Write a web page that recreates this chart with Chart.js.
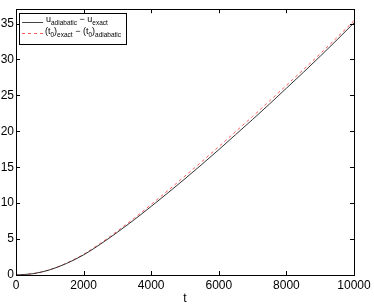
<!DOCTYPE html>
<html>
<head>
<meta charset="utf-8">
<script src="https://cdn.jsdelivr.net/npm/chart.js@4"></script>
<style>
  html, body { margin: 0; padding: 0; background: #fff; }
  #wrap { width: 374px; height: 306px; position: relative; }
</style>
</head>
<body>
<div id="wrap"><canvas id="chart" width="374" height="306"></canvas></div>
<script>
// values
const tValues = [0, 500, 1000, 1500, 2000, 2500, 3000, 3500, 4000, 4500, 5000,
                 5500, 6000, 6500, 7000, 7500, 8000, 8500, 9000, 9500, 10000];
const uDiff = [0, 0.18, 0.72, 1.62, 2.8, 4.3, 5.95, 7.7, 9.55, 11.45, 13.4,
               15.4, 17.45, 19.55, 21.65, 23.8, 26.0, 28.2, 30.45, 32.75, 35.1];
const t0Diff = [0, 0.18, 0.74, 1.67, 2.88, 4.42, 6.12, 7.92, 9.82, 11.78, 13.78,
                15.8, 17.87, 19.97, 22.07, 24.22, 26.4, 28.58, 30.8, 33.08, 35.4];
const xTicks = [0, 2000, 4000, 6000, 8000, 10000];
const yTicks = [0, 5, 10, 15, 20, 25, 30, 35];

const FONT = 'Liberation Sans, Arial, Helvetica, sans-serif';

// box, inward ticks and legend drawn like MATLAB
const matlabAxes = {
    id: 'matlabAxes',
    afterDraw(chart) {
        const ctx = chart.ctx;
        const a = chart.chartArea;
        const xs = chart.scales.x, ys = chart.scales.y;
        ctx.save();
        ctx.strokeStyle = '#000';
        ctx.lineWidth = 1;
        ctx.strokeRect(Math.round(a.left) + 0.5, Math.round(a.top) + 0.5,
                       Math.round(a.right - a.left), Math.round(a.bottom - a.top));
        ctx.beginPath();
        xTicks.forEach(v => {
            const px = Math.round(xs.getPixelForValue(v)) + 0.5;
            ctx.moveTo(px, a.bottom); ctx.lineTo(px, a.bottom - 4);
            ctx.moveTo(px, a.top); ctx.lineTo(px, a.top + 4);
        });
        yTicks.forEach(v => {
            const py = Math.round(ys.getPixelForValue(v)) + 0.5;
            ctx.moveTo(a.left, py); ctx.lineTo(a.left + 4, py);
            ctx.moveTo(a.right, py); ctx.lineTo(a.right - 4, py);
        });
        ctx.stroke();

        // legend
        const lx = 19, ly = 13, lw = 107, lh = 31;
        ctx.fillStyle = '#fff';
        ctx.fillRect(lx, ly, lw, lh);
        ctx.strokeStyle = '#000';
        ctx.strokeRect(lx + 0.5, ly + 0.5, lw, lh);

        ctx.lineWidth = 1;
        ctx.strokeStyle = '#444';
        ctx.beginPath(); ctx.moveTo(22, 22.5); ctx.lineTo(43, 22.5); ctx.stroke();
        ctx.strokeStyle = '#ff5a5a';
        ctx.setLineDash([3, 3]);
        ctx.beginPath(); ctx.moveTo(22, 33.5); ctx.lineTo(43, 33.5); ctx.stroke();
        ctx.setLineDash([]);

        ctx.fillStyle = '#000';
        ctx.textBaseline = 'alphabetic';
        const big = '9px ' + FONT, small = '6.5px ' + FONT;
        function run(parts, x, y) {
            parts.forEach(p => {
                ctx.font = p[1] ? small : big;
                ctx.fillText(p[0], x, y + (p[1] ? 3 : 0));
                x += ctx.measureText(p[0]).width;
            });
        }
        run([['u', 0], ['adiabatic', 1], [' \u2212 u', 0], ['exact', 1]], 46, 22);
        run([['(t', 0], ['0', 1], [')', 0], ['exact', 1], [' \u2212 (t', 0], ['0', 1], [')', 0], ['adiabatic', 1]], 45, 34);
        ctx.restore();
    }
};

new Chart(document.getElementById('chart'), {
    type: 'line',
    data: {
        datasets: [{
            label: 'u_adiabatic - u_exact',
            data: tValues.map((t, i) => ({ x: t, y: uDiff[i] })),
            borderColor: '#333',
            borderWidth: 1,
            pointRadius: 0,
            cubicInterpolationMode: 'monotone'
        }, {
            label: '(t0)_exact - (t0)_adiabatic',
            data: tValues.map((t, i) => ({ x: t, y: t0Diff[i] })),
            borderColor: '#ff5a5a',
            borderWidth: 1,
            borderDash: [3, 3],
            pointRadius: 0,
            cubicInterpolationMode: 'monotone'
        }]
    },
    options: {
        responsive: false,
        animation: false,
        layout: { padding: { top: 8, right: 20, left: 0, bottom: 0 } },
        plugins: { legend: { display: false }, tooltip: { enabled: false } },
        scales: {
            x: {
                type: 'linear',
                min: 0, max: 10000,
                afterBuildTicks: s => { s.ticks = xTicks.map(v => ({ value: v })); },
                afterFit: s => { s.height = 31; },
                grid: { display: false, drawTicks: false },
                border: { display: false },
                ticks: { color: '#000', font: { size: 12, family: FONT }, padding: 3, maxRotation: 0,
                         callback: v => String(v) },
                title: { display: true, text: 't', color: '#000', font: { size: 12, family: FONT }, padding: { top: -2, bottom: 0 } }
            },
            y: {
                min: 0, max: 37,
                afterBuildTicks: s => { s.ticks = yTicks.map(v => ({ value: v })); },
                afterFit: s => { s.width = 16; },
                grid: { display: false, drawTicks: false },
                border: { display: false },
                ticks: { color: '#000', font: { size: 12, family: FONT }, padding: 2,
                         callback: v => String(v) }
            }
        }
    },
    plugins: [matlabAxes]
});
</script>
</body>
</html>
